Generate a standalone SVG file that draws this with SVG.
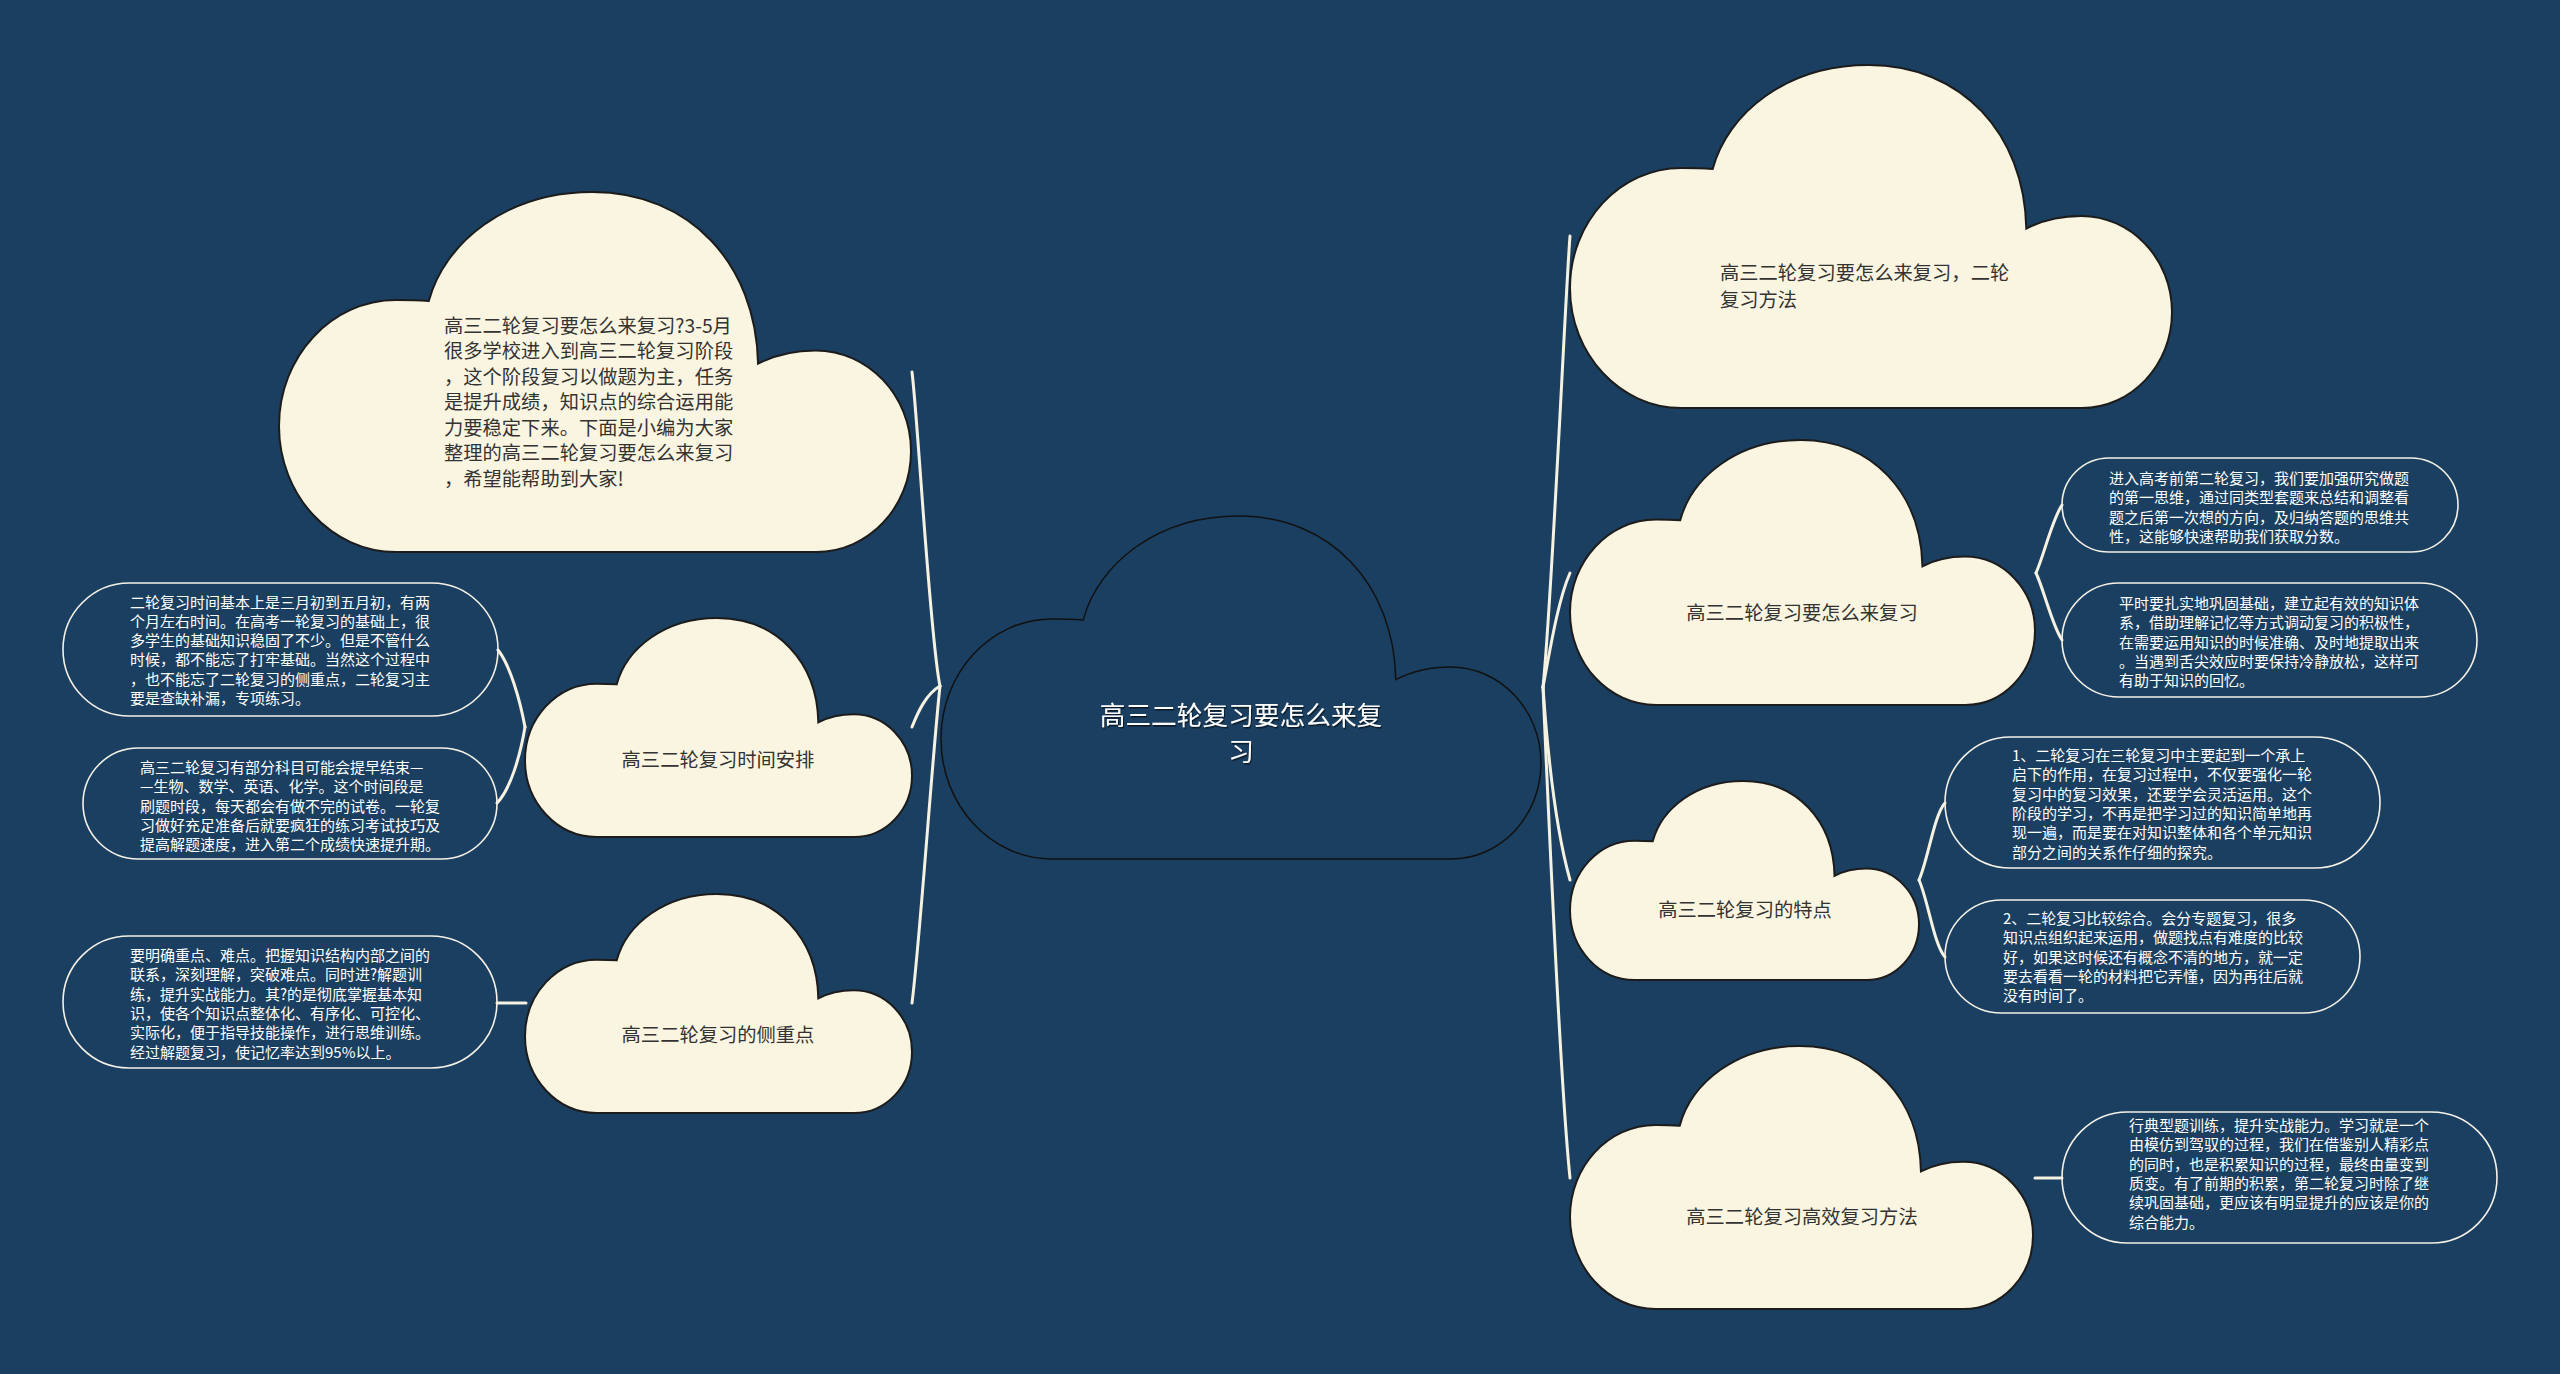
<svg xmlns="http://www.w3.org/2000/svg" xmlns:xlink="http://www.w3.org/1999/xlink" width="2560" height="1374" viewBox="0 0 2560 1374">
<defs>
<style>
.cloud{fill:#faf5e0;stroke:#1c1c1c;stroke-width:2}
.cloud-center{fill:#1b3f60;stroke:#111;stroke-width:1.5}
.ct{font-family:"Noto Sans CJK SC","Noto Sans",sans-serif;font-size:19.3px;fill:#333}
.mt{font-family:"Noto Sans CJK SC","Noto Sans",sans-serif;font-size:25.7px;fill:#ffffff;text-anchor:middle}
.leaf{fill:none;stroke:#f4f1e6;stroke-width:1.6}
.lt{font-family:"Noto Sans CJK SC","Noto Sans",sans-serif;font-size:15px;fill:#ffffff}
.conn{fill:none;stroke:#f6f2e2;stroke-width:3;stroke-linecap:round}
</style>
<path id="cloudShape" vector-effect="non-scaling-stroke" d="M 237 303 C 262 140 360 0 496 0 C 650 0 755 200 758 477 C 785 452 815 440 849 440 C 932 440 1000 565 1000 720 C 1000 875 933 1000 850 1000 L 185 1000 C 83 1000 0 843 0 650 C 0 457 83 300 185 300 C 205 300 222 301 237 303 Z"/>
<filter id="shadow" x="-10%" y="-30%" width="120%" height="160%">
<feDropShadow dx="1" dy="1.5" stdDeviation="0.6" flood-color="#000" flood-opacity="0.6"/>
</filter>
</defs>
<rect x="0" y="0" width="2560" height="1374" fill="#1b3f60"/>

<g id="connectors">
<path class="conn" d="M 940 686 C 930 640 918 420 912 372"/>
<path class="conn" d="M 940 686 C 926 694 918 712 912 727"/>
<path class="conn" d="M 940 686 C 932 760 920 940 912 1003"/>
<path class="conn" d="M 525 727 C 520 700 510 665 498 650"/>
<path class="conn" d="M 525 727 C 520 757 510 790 497 803"/>
<path class="conn" d="M 526 1003 L 497 1003"/>
<path class="conn" d="M 1543 687 C 1552 600 1565 300 1570 236"/>
<path class="conn" d="M 1543 687 C 1550 650 1558 600 1570 573"/>
<path class="conn" d="M 1543 687 C 1548 760 1556 830 1570 880"/>
<path class="conn" d="M 1543 687 C 1550 850 1562 1100 1570 1178"/>
<path class="conn" d="M 2036 573 C 2044 555 2052 520 2062 505"/>
<path class="conn" d="M 2036 573 C 2044 590 2052 625 2062 640"/>
<path class="conn" d="M 1919 880 C 1928 860 1934 815 1945 803"/>
<path class="conn" d="M 1919 880 C 1928 900 1934 945 1945 957"/>
<path class="conn" d="M 2035 1178 L 2062 1178"/>
</g>

<g id="node-center">
<use href="#cloudShape" class="cloud-center" transform="translate(941 516) scale(0.6 0.343)"/>
<text class="mt" filter="url(#shadow)"><tspan x="1241" y="725">高三二轮复习要怎么来复</tspan><tspan x="1241" y="761">习</tspan></text>
</g>

<g id="node-intro">
<use href="#cloudShape" class="cloud" transform="translate(279 192) scale(0.632 0.36)"/>
<text class="ct">
<tspan x="444" y="332.5">高三二轮复习要怎么来复习?3-5月</tspan>
<tspan x="444" y="358">很多学校进入到高三二轮复习阶段</tspan>
<tspan x="444" y="383.5">，这个阶段复习以做题为主，任务</tspan>
<tspan x="444" y="409">是提升成绩，知识点的综合运用能</tspan>
<tspan x="444" y="434.5">力要稳定下来。下面是小编为大家</tspan>
<tspan x="444" y="460">整理的高三二轮复习要怎么来复习</tspan>
<tspan x="444" y="485.5">，希望能帮助到大家!</tspan>
</text>
</g>

<g id="node-time">
<use href="#cloudShape" class="cloud" transform="translate(525 618) scale(0.387 0.219)"/>
<text class="ct" x="718" y="767" text-anchor="middle">高三二轮复习时间安排</text>
</g>

<g id="node-focus">
<use href="#cloudShape" class="cloud" transform="translate(525 894) scale(0.387 0.219)"/>
<text class="ct" x="718" y="1042" text-anchor="middle">高三二轮复习的侧重点</text>
</g>

<g id="node-method">
<use href="#cloudShape" class="cloud" transform="translate(1570 65) scale(0.602 0.343)"/>
<text class="ct"><tspan x="1720" y="280">高三二轮复习要怎么来复习，二轮</tspan><tspan x="1720" y="307">复习方法</tspan></text>
</g>

<g id="node-how">
<use href="#cloudShape" class="cloud" transform="translate(1570 440) scale(0.465 0.265)"/>
<text class="ct" x="1802" y="620" text-anchor="middle">高三二轮复习要怎么来复习</text>
</g>

<g id="node-feature">
<use href="#cloudShape" class="cloud" transform="translate(1570 781) scale(0.349 0.199)"/>
<text class="ct" x="1745" y="917" text-anchor="middle">高三二轮复习的特点</text>
</g>

<g id="node-efficient">
<use href="#cloudShape" class="cloud" transform="translate(1570 1046) scale(0.463 0.263)"/>
<text class="ct" x="1802" y="1224" text-anchor="middle">高三二轮复习高效复习方法</text>
</g>

<g id="leaf-time-1">
<rect class="leaf" x="63" y="583" width="435" height="133" rx="66.5" ry="66.5"/>
<text class="lt">
<tspan x="130" y="607.5">二轮复习时间基本上是三月初到五月初，有两</tspan>
<tspan x="130" y="626.8">个月左右时间。在高考一轮复习的基础上，很</tspan>
<tspan x="130" y="646.1">多学生的基础知识稳固了不少。但是不管什么</tspan>
<tspan x="130" y="665.4">时候，都不能忘了打牢基础。当然这个过程中</tspan>
<tspan x="130" y="684.7">，也不能忘了二轮复习的侧重点，二轮复习主</tspan>
<tspan x="130" y="704">要是查缺补漏，专项练习。</tspan>
</text>
</g>

<g id="leaf-time-2">
<rect class="leaf" x="83" y="748" width="414" height="111" rx="55.5" ry="55.5"/>
<text class="lt">
<tspan x="140" y="773">高三二轮复习有部分科目可能会提早结束—</tspan>
<tspan x="140" y="792.3">—生物、数学、英语、化学。这个时间段是</tspan>
<tspan x="140" y="811.6">刷题时段，每天都会有做不完的试卷。一轮复</tspan>
<tspan x="140" y="830.9">习做好充足准备后就要疯狂的练习考试技巧及</tspan>
<tspan x="140" y="850.2">提高解题速度，进入第二个成绩快速提升期。</tspan>
</text>
</g>

<g id="leaf-focus-1">
<rect class="leaf" x="63" y="936" width="434" height="132" rx="66" ry="66"/>
<text class="lt">
<tspan x="130" y="961">要明确重点、难点。把握知识结构内部之间的</tspan>
<tspan x="130" y="980.3">联系，深刻理解，突破难点。同时进?解题训</tspan>
<tspan x="130" y="999.6">练，提升实战能力。其?的是彻底掌握基本知</tspan>
<tspan x="130" y="1018.9">识，使各个知识点整体化、有序化、可控化、</tspan>
<tspan x="130" y="1038.2">实际化，便于指导技能操作，进行思维训练。</tspan>
<tspan x="130" y="1057.5">经过解题复习，使记忆率达到95%以上。</tspan>
</text>
</g>

<g id="leaf-how-1">
<rect class="leaf" x="2062" y="458" width="396" height="94" rx="47" ry="47"/>
<text class="lt">
<tspan x="2109" y="484">进入高考前第二轮复习，我们要加强研究做题</tspan>
<tspan x="2109" y="503.3">的第一思维，通过同类型套题来总结和调整看</tspan>
<tspan x="2109" y="522.6">题之后第一次想的方向，及归纳答题的思维共</tspan>
<tspan x="2109" y="541.9">性，这能够快速帮助我们获取分数。</tspan>
</text>
</g>

<g id="leaf-how-2">
<rect class="leaf" x="2062" y="583" width="415" height="114" rx="57" ry="57"/>
<text class="lt">
<tspan x="2119" y="609">平时要扎实地巩固基础，建立起有效的知识体</tspan>
<tspan x="2119" y="628.3">系，借助理解记忆等方式调动复习的积极性，</tspan>
<tspan x="2119" y="647.6">在需要运用知识的时候准确、及时地提取出来</tspan>
<tspan x="2119" y="666.9">。当遇到舌尖效应时要保持冷静放松，这样可</tspan>
<tspan x="2119" y="686.2">有助于知识的回忆。</tspan>
</text>
</g>

<g id="leaf-feature-1">
<rect class="leaf" x="1945" y="737" width="435" height="131" rx="65.5" ry="65.5"/>
<text class="lt">
<tspan x="2012" y="761">1、二轮复习在三轮复习中主要起到一个承上</tspan>
<tspan x="2012" y="780.3">启下的作用，在复习过程中，不仅要强化一轮</tspan>
<tspan x="2012" y="799.6">复习中的复习效果，还要学会灵活运用。这个</tspan>
<tspan x="2012" y="818.9">阶段的学习，不再是把学习过的知识简单地再</tspan>
<tspan x="2012" y="838.2">现一遍，而是要在对知识整体和各个单元知识</tspan>
<tspan x="2012" y="857.5">部分之间的关系作仔细的探究。</tspan>
</text>
</g>

<g id="leaf-feature-2">
<rect class="leaf" x="1945" y="900" width="415" height="113" rx="56.5" ry="56.5"/>
<text class="lt">
<tspan x="2003" y="924">2、二轮复习比较综合。会分专题复习，很多</tspan>
<tspan x="2003" y="943.3">知识点组织起来运用，做题找点有难度的比较</tspan>
<tspan x="2003" y="962.6">好，如果这时候还有概念不清的地方，就一定</tspan>
<tspan x="2003" y="981.9">要去看看一轮的材料把它弄懂，因为再往后就</tspan>
<tspan x="2003" y="1001.2">没有时间了。</tspan>
</text>
</g>

<g id="leaf-efficient-1">
<rect class="leaf" x="2062" y="1112" width="435" height="131" rx="65.5" ry="65.5"/>
<text class="lt">
<tspan x="2129" y="1131">行典型题训练，提升实战能力。学习就是一个</tspan>
<tspan x="2129" y="1150.3">由模仿到驾驭的过程，我们在借鉴别人精彩点</tspan>
<tspan x="2129" y="1169.6">的同时，也是积累知识的过程，最终由量变到</tspan>
<tspan x="2129" y="1188.9">质变。有了前期的积累，第二轮复习时除了继</tspan>
<tspan x="2129" y="1208.2">续巩固基础，更应该有明显提升的应该是你的</tspan>
<tspan x="2129" y="1227.5">综合能力。</tspan>
</text>
</g>
</svg>
